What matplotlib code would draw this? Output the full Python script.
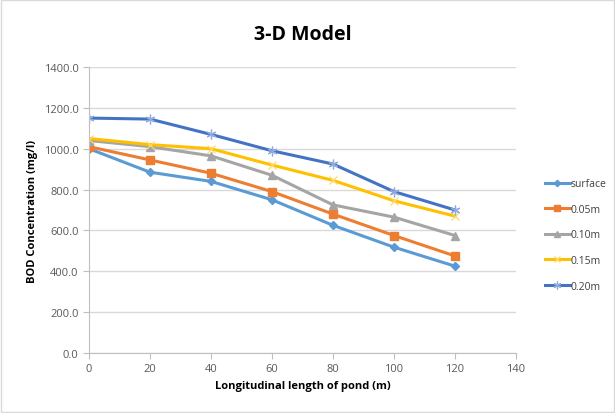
import matplotlib
matplotlib.use("Agg")
import matplotlib.pyplot as plt
from matplotlib.patches import Rectangle

x = [0, 20, 40, 60, 80, 100, 120]
surface = [1000, 885, 840, 750, 625, 518, 425]
d005 = [1010, 945, 880, 790, 680, 575, 475]
d010 = [1040, 1010, 965, 870, 725, 665, 575]
d015 = [1050, 1020, 1000, 920, 845, 745, 670]
d020 = [1150, 1145, 1070, 990, 925, 790, 700]
labels = ["surface", "0.05m", "0.10m", "0.15m", "0.20m"]

plt.rcParams['font.family'] = ['Open Sans', 'DejaVu Sans']

fig = plt.figure(figsize=(6.15, 4.14), dpi=100)
ax = fig.add_axes([89 / 615, 1 - 354 / 414, (516 - 89) / 615, (354 - 68) / 414])

ax.plot(x, surface, color="#5B9BD5", lw=2.2, marker="D", ms=4, label=labels[0])
ax.plot(x, d005, color="#ED7D31", lw=2.2, marker="s", ms=6, label=labels[1])
ax.plot(x, d010, color="#A5A5A5", lw=2.2, marker="^", ms=6, label=labels[2])
ax.plot(x, d015, color="#FFC000", lw=2.2, marker="x", ms=6, mec="#FFD966", mew=0.9, label=labels[3])
ax.plot(x, d020, color="#4472C4", lw=2.2, marker=(6, 2, 0), ms=7, mec="#8FAADC", mew=0.9, label=labels[4])

ax.set_xlim(0, 140)
ax.set_ylim(0, 1400)
ax.set_xticks(range(0, 141, 20))
ax.set_yticks(range(0, 1401, 200))
ax.set_yticklabels([f"{v:.1f}" for v in range(0, 1401, 200)])
ax.grid(axis="y", color="#D9D9D9", lw=1)
ax.set_axisbelow(True)
for s in ["top", "right"]:
    ax.spines[s].set_visible(False)
for s in ["left", "bottom"]:
    ax.spines[s].set_color("#BFBFBF")
ax.tick_params(colors="#595959", labelsize=8, length=4, width=0.8, direction="out")
ax.tick_params(axis="both", color="#BFBFBF")

ax.set_xlabel("Longitudinal length of pond (m)", fontsize=8, fontweight="bold", color="black")
ax.set_ylabel("BOD Concentration (mg/l)", fontsize=8, fontweight="bold", color="black")
ax.set_title("3-D Model", fontsize=14, fontweight="bold", pad=20)

leg = ax.legend(loc="center left", bbox_to_anchor=(1.045, 0.413), frameon=False, fontsize=7.5,
                labelspacing=1.4, handlelength=2.4, handletextpad=0.05, markerscale=0.8)
for t in leg.get_texts():
    t.set_color("#404040")

fig.patches.append(Rectangle((0.002, 0.002), 0.996, 0.996, transform=fig.transFigure,
                             fill=False, ec="#D9D9D9", lw=1))

fig.savefig("out.png", dpi=100)
